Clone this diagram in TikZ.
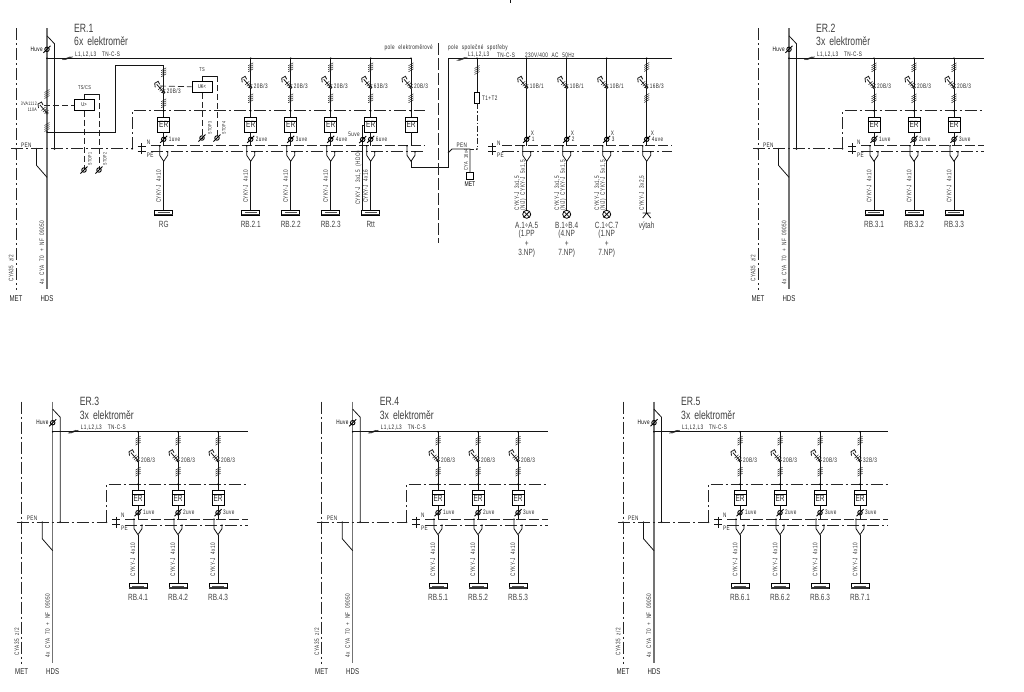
\documentclass[tikz,border=0pt]{standalone}
\usepackage{fontspec}
\setmainfont[FakeStretch=0.72]{Liberation Sans}
\newfontfamily\cadsmall[FakeStretch=0.72,LetterSpace=6,WordSpace=2.2]{Liberation Sans}
\newcommand{\fs}[1]{\fontsize{#1}{#1}\selectfont}

\tikzset{
  wire/.style={line width=0.8pt,black!92},
  hdsline/.style={line width=1.2pt,black!55},
  dashdot/.style={line width=0.7pt,black!85,dash pattern=on 12pt off 3pt on 2pt off 3pt},
  dashn/.style={line width=0.7pt,black!85,dash pattern=on 10pt off 3pt},
  ctrl/.style={line width=0.7pt,black!85,dash pattern=on 6pt off 3pt},
  tiny/.style={font=\cadsmall\fs{6.5},inner sep=0pt,text=black!85},
  cablelab/.style={font=\cadsmall\fs{6.5},inner sep=0pt,text=black!80,rotate=90},
  endlab/.style={font=\fs{9},inner sep=0pt,text=black!75},
  titlelab/.style={font=\fs{12},inner sep=0pt,text=black!75,anchor=west},
  meterbox/.style={draw,line width=0.8pt,minimum width=12pt,minimum height=15pt,inner sep=0pt,font=\fs{9},text=black!85},
  busbar/.style={draw,line width=1pt,minimum width=18pt,minimum height=4.5pt,inner sep=0pt,fill=white},
  ctrlbox/.style={draw,line width=0.7pt,minimum width=20pt,minimum height=11pt,inner sep=0pt,font=\fs{5.5}},
  lampsym/.style={circle,draw,line width=0.8pt,minimum size=8pt,inner sep=0pt},
  swcirc/.style={circle,draw,line width=0.7pt,fill=white,minimum size=2.5pt,inner sep=0pt},
  % vertical hatch on a wire
  pics/hatch/.style={code={
    \foreach \d in {-3,-1,1,3} \draw[line width=0.5pt,black!85] (-2.5,\d+1.5) -- (2.5,\d-1.5);
  }},
  % flat hatch on a bus
  pics/bushatch/.style={code={
    \foreach \d in {-1.3,0,1.3} \draw[line width=0.5pt,black!85] (-4+\d,1.5) -- (4+\d,-1.5);
  }},
  pics/slashc/.style={code={
    \node[circle,draw,line width=0.9pt,minimum size=4.5pt,inner sep=0pt] (c) {};
    \draw[line width=0.9pt] (-3.5,3.5) -- (3.5,-3.5);
  }},
  % switch blade, origin on the contact
  pics/blade/.style={code={
    \draw[line width=0.8pt,black!90] (0,0) -- (-7,-8);
    \draw[line width=0.8pt,black!90] (-8.5,-5) -- (-9,-9) -- (-5.5,-11) -- (-4,-8);
    \foreach \d in {0,1.5,3} \draw[line width=0.5pt,black!85] (-5.5+\d,-2.5+\d) -- (-1.5+\d,-6+\d);
  }},
  % U of the N and PE connection
  pics/ufork/.style={code={
    \draw[wire] (-4,87.5) -- (-4,97) -- (0,103) -- (4,97) -- (4,93.5);
    \fill (-4,87.5) circle (0.8pt) (4,93.5) circle (0.8pt);
  }},
  % from the upper hatch to the meter, #2 moves the breaker down
  pics/meterleg/.style n args={2}{code={
    \coordinate (top) at (0,7.4);
    \node[swcirc] (sw) at (0,29+#2) {};
    \node[meterbox] (er) at (0,66.5) {\raisebox{-1.5pt}{ER}};
    \draw[line width=0.8pt] (er.north west) ++(0,4) -- ++(12,0);
    \draw[wire] (top) -- (sw) (sw) -- (er);
    \pic at (0,9+#2) {hatch};
    \pic at (0,29+#2) {blade};
    \pic at (0,40+#2) {hatch};
    \fill (0,52.5) circle (0.9pt);
    \node[tiny,anchor=west] (rate) at (3,28+#2) {#1};
  }},
  % meter output, cable and bar
  pics/tail/.style n args={3}{code={
    \coordinate (out) at (0,74);
    \coordinate (bar) at (0,154.5);
    \pic at (0,81) {slashc};
    \pic at (0,0) {ufork};
    \node[tiny,anchor=west] (uve) at (5,81) {#1};
    \node[busbar] (rb) at (bar) {};
    \fill[black!80] (-9,155.5) rectangle (9,157);
    \draw[line width=0.8pt,black!70] (-6,154.2) -- (6,154.2);
    \draw[wire] (out) -- (0,87.5) (0,103) -- (rb);
    \node[cablelab] (cab) at (-5,128) {#2};
    \node[endlab] (nm) at (0,166) {#3};
  }},
  pics/feeder/.style n args={4}{code={
    \coordinate (o) at (0,0);
    \fill (0,0) circle (0.9pt);
    \draw[wire] (o) -- (0,7.4);
    \pic (m) at (0,0) {meterleg={#1}{0}};
    \pic (t) at (0,0) {tail={#2}{#3}{#4}};
  }},
  % N, PE and the dash dot frame, origin at the first feeder
  pics/pegroup/.style={code={
    \coordinate (left) at (-31.5,90.5);
    \coordinate (corner) at (-31.5,52.5);
    \coordinate (topend) at (#1,52.5);
    \coordinate (nstart) at (-13,87.5);
    \coordinate (nend) at (#1,87.5);
    \coordinate (pstart) at (-13,93.5);
    \coordinate (pend) at (#1,93.5);
    \draw[dashdot] (left) -- (corner) -- (topend);
    \draw[dashn] (nstart) -- (nend);
    \draw[dashdot] (pstart) -- (pend);
    \draw[wire] (-22,85) -- (-22,96) (-26,88) -- (-18,88) (-26,93) -- (-18,93);
    \fill (left) circle (0.9pt);
    \node[tiny,anchor=west] (nn) at (-17,84) {N};
    \node[tiny,anchor=west] (pe) at (-17,97) {PE};
  }},
  % supply side of a panel, origin where HDS meets the bus
  pics/panel/.style n args={2}{code={
    \coordinate (o) at (0,0);
    \coordinate (hup) at (0,-30);
    \coordinate (hdn) at (0,231);
    \coordinate (mup) at (-31,-30);
    \coordinate (mdn) at (-31,232);
    \coordinate (pe) at (-36,90.5);
    \coordinate (sa) at (0,-22.5);
    \coordinate (sb) at (7.5,-14.5);
    \coordinate (sc) at (7.5,90.5);
    \coordinate (pa) at (-10.5,90.5);
    \coordinate (pb) at (-10.5,107);
    \coordinate (pc) at (0,119);
    \draw[hdsline] (hup) -- (hdn);
    \draw[dashdot] (mup) -- (mdn);
    \draw[wire] (sa) -- (sb) -- (sc);
    \draw[wire] (pa) -- (pb) -- (pc);
    \fill (o) circle (0.9pt) (sc) circle (1pt) (pa) circle (0.9pt) (-31,90.5) circle (0.9pt);
    \pic at (0,-9) {slashc};
    \pic at (20.5,0) {bushatch};
    \node[titlelab] (ttl) at (27,-30) {#1};
    \node[titlelab] (sub) at (27,-17) {#2};
    \node[tiny,anchor=east,text=black] (hv) at (-4,-9) {Huve};
    \node[tiny,anchor=west] (phs) at (28,-4) {L1,L2,L3};
    \node[tiny,anchor=west] (tn) at (55,-4) {TN-C-S};
    \node[tiny,anchor=west] (pen) at (-26,86.5) {PEN};
    \node[endlab,font=\fs{8.5},text=black!85] (met) at (-31,240) {MET};
    \node[endlab,font=\fs{8.5},text=black!85] (hds) at (0,240) {HDS};
    \node[cablelab] (cya) at (-36,210) {CYA35 z/2};
    \node[cablelab] (mains) at (-5,194) {4x CYA 70 + NF 09050};
  }},
  % common consumers, no meter
  pics/branch/.style n args={3}{code={
    \coordinate (o) at (0,0);
    \node[swcirc] (sw) at (0,29) {};
    \draw[wire] (o) -- (sw);
    \fill (0,0) circle (0.9pt);
    \pic at (0,29) {blade};
    \node[tiny,anchor=west] (rate) at (3,28) {#1};
    \draw[wire] (sw) -- (0,87.5);
    \pic at (0,81) {slashc};
    \pic at (0,0) {ufork};
    \node[tiny,anchor=west] (xx) at (4,75) {X};
    \node[tiny,anchor=west] (num) at (5,81) {#2};
    \node[cablelab] (cab) at (-9.5,135) {CYKY-J 3x1,5};
    \node[cablelab] (cabb) at (-3.5,127) {(N/J) CYKY-J 5x1,5};
    \node[lampsym] (lamp) at (0,156) {};
    \draw[wire] (0,103) -- (lamp);
    \draw[wire] (lamp.45) -- (lamp.225) (lamp.135) -- (lamp.315);
    \node[endlab] (aa) at (0,167) {#3};
  }}
}

\begin{document}
\begin{tikzpicture}[x=1pt,y=-1pt]
\useasboundingbox (0,0) rectangle (1024,691);

% znacka nahore
\coordinate (mark) at (510,0);
\coordinate (markb) at (510,3);
\draw[wire] (mark) -- (markb);

% ER.1
\pic (p1) at (47,58.3) {panel={ER.1}{6x\hspace{4pt}elektroměr}};
\coordinate (e1) at (411,58.3);
\draw[wire] (p1o) -- (e1);
\pic (g1) at (163.7,58.3) {pegroup=261.3};
\draw[dashdot] (p1pe) -- (g1left);

% hlavni vypinac
\node[swcirc] (qm) at (47,113) {};
\pic at (47,94) {hatch};
\pic at (47,127) {hatch};
\pic at (47,113) {blade};
\node[tiny,font=\cadsmall\fs{5},anchor=east] (qmt) at (37,104) {3VA1112};
\node[tiny,font=\cadsmall\fs{5},anchor=east] (qmi) at (37,110) {110A};
\node[ctrlbox] (us) at (84,105) {U>};
\draw[ctrl] (44,105) -- (us);
\node[tiny,font=\cadsmall\fs{5.5}] (tsc) at (84.5,88) {TS/CS};
\coordinate (tsa) at (84,94);
\coordinate (tsb) at (99,94);
\coordinate (tsd) at (99,170);
\coordinate (tse) at (84,170);
\draw[wire,line width=0.5pt] (us.north) -- (tsa) -- (tsb);
\draw[ctrl] (tsb) -- (tsd);
\draw[ctrl] (us.south) -- (tse);
\pic at (tse) {slashc};
\pic at (tsd) {slashc};
\node[tiny,font=\cadsmall\fs{5},rotate=90] (st1) at (90,159) {STOP1};
\node[tiny,font=\cadsmall\fs{5},rotate=90] (st2) at (105,159) {STOP2};

% RG z vyvodu pred hlavnim vypinacem
\coordinate (rga) at (47,132);
\coordinate (rgb) at (115,132);
\coordinate (rgc) at (115,65.7);
\coordinate (rgd) at (163.7,65.7);
\draw[wire] (rga) -- (rgb) -- (rgc) -- (rgd);
\fill (rga) circle (0.9pt);
\pic (rgm) at (163.7,58.3) {meterleg={20B/3}{5}};
\pic (rgt) at (163.7,58.3) {tail={1uve}{CYKY-J 4x10}{RG}};

% podpetova spoust
\node[ctrlbox] (uk) at (202,87) {UK<};
\draw[ctrl] (160,86) -- (uk);
\node[tiny,font=\cadsmall\fs{5.5}] (tsl) at (202,70) {TS};
\coordinate (uka) at (202,76);
\coordinate (ukb) at (217,76);
\coordinate (ukc) at (217,138);
\coordinate (ukd) at (202,138);
\draw[wire,line width=0.5pt] (uk.north) -- (uka) -- (ukb);
\draw[ctrl] (ukb) -- (ukc);
\draw[ctrl] (uk.south) -- (ukd);
\pic at (ukd) {slashc};
\pic at (ukc) {slashc};
\node[tiny,font=\cadsmall\fs{5},rotate=90] (st3) at (210,128) {STOP3};
\node[tiny,font=\cadsmall\fs{5},rotate=90] (st4) at (224,128) {STOP4};

% vyvody ER.1
\foreach \i/\x/\r/\u/\c/\l in {1/250.7/20B/2uve/CYKY-J 4x10/RB.2.1,
  2/290.7/20B/3uve/CYKY-J 4x10/RB.2.2,
  3/330.7/20B/4uve/CYKY-J 4x10/RB.2.3,
  4/370.7/63B/6uve/CYKY-J 4x16/Rtt}
  \pic (fa\i) at (\x,58.3) {feeder={\r/3}{\u}{\c}{\l}};

% HDO u Rtt
\coordinate (hdoa) at (365,125);
\coordinate (hdob) at (362.7,125);
\coordinate (hdoc) at (362.7,211);
\draw[wire] (hdoa) -- (hdob) -- (hdoc);
\pic at (362.7,139.5) {slashc};
\node[tiny,anchor=east] (hdot) at (360,134) {5uve};
\node[cablelab] (hdol) at (358.5,178) {CYKY-J 3x1,5 (HDO)};

% vyvod do pole spolecne spotreby
\fill (411,58.3) circle (0.9pt);
\draw[wire] (411,58.3) -- (411,65.7);
\pic (lm) at (411,58.3) {meterleg={20B/3}{0}};
\pic at (411,58.3) {ufork};
\coordinate (la) at (411,167);
\coordinate (lb) at (448,167);
\coordinate (lc) at (448,58.3);
\coordinate (ld) at (672,58.3);
\draw[wire] (411,132.3) -- (411,145.8) (411,161.3) -- (la) -- (lb) -- (lc) -- (ld);

% deleni poli
\coordinate (sepa) at (438.7,43);
\coordinate (sepb) at (438.7,243);
\draw[ctrl,dash pattern=on 12pt off 3pt] (sepa) -- (sepb);
\node[tiny,anchor=east] (pole) at (433,48) {pole elektroměrové};
\node[tiny,anchor=west] (pols) at (448,48) {pole společné spotřeby};

% pole spolecne spotreby
\pic at (462,59) {bushatch};
\node[tiny,anchor=west] (phb) at (468,55) {L1,L2,L3};
\node[tiny,anchor=west] (tnb) at (497,55) {TN-C-S};
\node[tiny,anchor=west] (volt) at (525,55) {230V/400 AC 50Hz};
\node[draw,line width=0.8pt,minimum width=4.5pt,minimum height=11pt,inner sep=0pt] (spd) at (477,97.5) {};
\coordinate (spa) at (477,58.3);
\coordinate (spb) at (477,149);
\draw[wire] (spa) -- (spd);
\draw[dashdot,dash pattern=on 6pt off 2pt on 1.5pt off 2pt] (spd) -- (spb);
\fill (spa) circle (0.9pt) (spb) circle (0.9pt);
\pic at (477,70) {hatch};
\node[tiny,anchor=west] (t12) at (482,98) {T1+T2};
\coordinate (pna) at (448,153);
\coordinate (pnb) at (452,149);
\coordinate (pnc) at (470,149);
\coordinate (pnd) at (470,172);
\draw[wire] (pna) -- (pnb) -- (pnc) -- (pnd);
\draw[dashdot,dash pattern=on 4pt off 1.5pt] (pnc) -- (spb);
\node[tiny,anchor=west] (penb) at (456.5,145.5) {PEN};
\node[tiny,font=\cadsmall\fs{5.5},rotate=90] (cy16) at (466,160) {CYA 16x4};
\node[draw,line width=0.8pt,minimum size=7.5pt,inner sep=0pt] (etb) at (470,175.7) {};
\draw[wire] (pnd) -- (etb);
\node[endlab,font=\fs{7},text=black] (etm) at (470,184) {MET};
\coordinate (xna) at (502,145.8);
\coordinate (xnb) at (672,145.8);
\coordinate (xpa) at (502,151.8);
\coordinate (xpb) at (672,151.8);
\draw[dashn] (xna) -- (xnb);
\draw[dashdot] (xpa) -- (xpb);
\draw[wire] (492,143) -- (492,155) (488,146) -- (496,146) (488,151) -- (496,151);
\node[tiny,anchor=west] (xnl) at (497,143) {N};
\node[tiny,anchor=west] (xpl) at (497,155) {PE};
\foreach \i/\x/\n/\l in {1/526.7/1/A.1÷A.5,2/566.7/2/B.1÷B.4,3/606.7/3/C.1÷C.7}
  \pic (br\i) at (\x,58.3) {branch={10B/1}{\n}{\l}};
\node[endlab] (ap) at (526.7,234) {(1.PP};
\node[endlab] (apl) at (526.7,243.5) {+};
\node[endlab] (aq) at (526.7,253) {3.NP)};
\node[endlab] (bp) at (566.7,234) {(4.NP};
\node[endlab] (bpl) at (566.7,243.5) {+};
\node[endlab] (bq) at (566.7,253) {7.NP)};
\node[endlab] (cp) at (606.7,234) {(1.NP};
\node[endlab] (cpl) at (606.7,243.5) {+};
\node[endlab] (cq) at (606.7,253) {7.NP)};

% vytah
\coordinate (va) at (646.7,58.3);
\coordinate (vb) at (646.7,213);
\node[swcirc] (vs) at (646.7,87.3) {};
\draw[wire] (va) -- (vs) (vs) -- (646.7,145.8) (646.7,161.3) -- (vb);
\fill (va) circle (0.9pt);
\pic at (646.7,67) {hatch};
\pic at (646.7,87.3) {blade};
\pic at (646.7,98) {hatch};
\pic at (646.7,139.3) {slashc};
\pic at (646.7,58.3) {ufork};
\node[tiny,anchor=west] (vr) at (649.7,86.3) {16B/3};
\node[tiny,anchor=west] (vx) at (650.7,133.3) {X};
\node[tiny,anchor=west] (vu) at (651.7,139.3) {4uve};
\node[cablelab] (vc) at (642,193) {CYKY-J 3x2,5};
\draw[wire] (642.7,213) -- (650.7,213) (642.7,218) -- (646.7,213) -- (650.7,218);
\node[endlab] (vl) at (646.7,226) {výtah};

% ER.2
\pic (p2) at (789,58.3) {panel={ER.2}{3x\hspace{4pt}elektroměr}};
\coordinate (e2) at (984,58.3);
\draw[wire] (p2o) -- (e2);
\pic (g2) at (874,58.3) {pegroup=110};
\draw[dashdot] (p2pe) -- (g2left);
\foreach \i/\x/\u/\l in {1/874/1uve/RB.3.1,2/914/2uve/RB.3.2,3/954/3uve/RB.3.3}
  \pic (fb\i) at (\x,58.3) {feeder={20B/3}{\u}{CYKY-J 4x10}{\l}};

% ER.3
\pic (p3) at (52.7,431.7) {panel={ER.3}{3x\hspace{4pt}elektroměr}};
\coordinate (e3) at (248,431.7);
\draw[wire] (p3o) -- (e3);
\pic (g3) at (138,431.7) {pegroup=110};
\draw[dashdot] (p3pe) -- (g3left);
\foreach \i/\x/\u/\l in {1/138/1uve/RB.4.1,2/178/2uve/RB.4.2,3/218/3uve/RB.4.3}
  \pic (fc\i) at (\x,431.7) {feeder={20B/3}{\u}{CYKY-J 4x10}{\l}};

% ER.4
\pic (p4) at (352.7,431.7) {panel={ER.4}{3x\hspace{4pt}elektroměr}};
\coordinate (e4) at (548,431.7);
\draw[wire] (p4o) -- (e4);
\pic (g4) at (438,431.7) {pegroup=110};
\draw[dashdot] (p4pe) -- (g4left);
\foreach \i/\x/\u/\l in {1/438/1uve/RB.5.1,2/478/2uve/RB.5.2,3/518/3uve/RB.5.3}
  \pic (fd\i) at (\x,431.7) {feeder={20B/3}{\u}{CYKY-J 4x10}{\l}};

% ER.5
\pic (p5) at (654,431.7) {panel={ER.5}{3x\hspace{4pt}elektroměr}};
\coordinate (e5) at (888,431.7);
\draw[wire] (p5o) -- (e5);
\pic (g5) at (740,431.7) {pegroup=148};
\draw[dashdot] (p5pe) -- (g5left);
\foreach \i/\x/\r/\u/\l in {1/740/20B/1uve/RB.6.1,2/780/20B/2uve/RB.6.2,3/820/20B/3uve/RB.6.3,4/860/32B/3uve/RB.7.1}
  \pic (fe\i) at (\x,431.7) {feeder={\r/3}{\u}{CYKY-J 4x10}{\l}};

\end{tikzpicture}
\end{document}
